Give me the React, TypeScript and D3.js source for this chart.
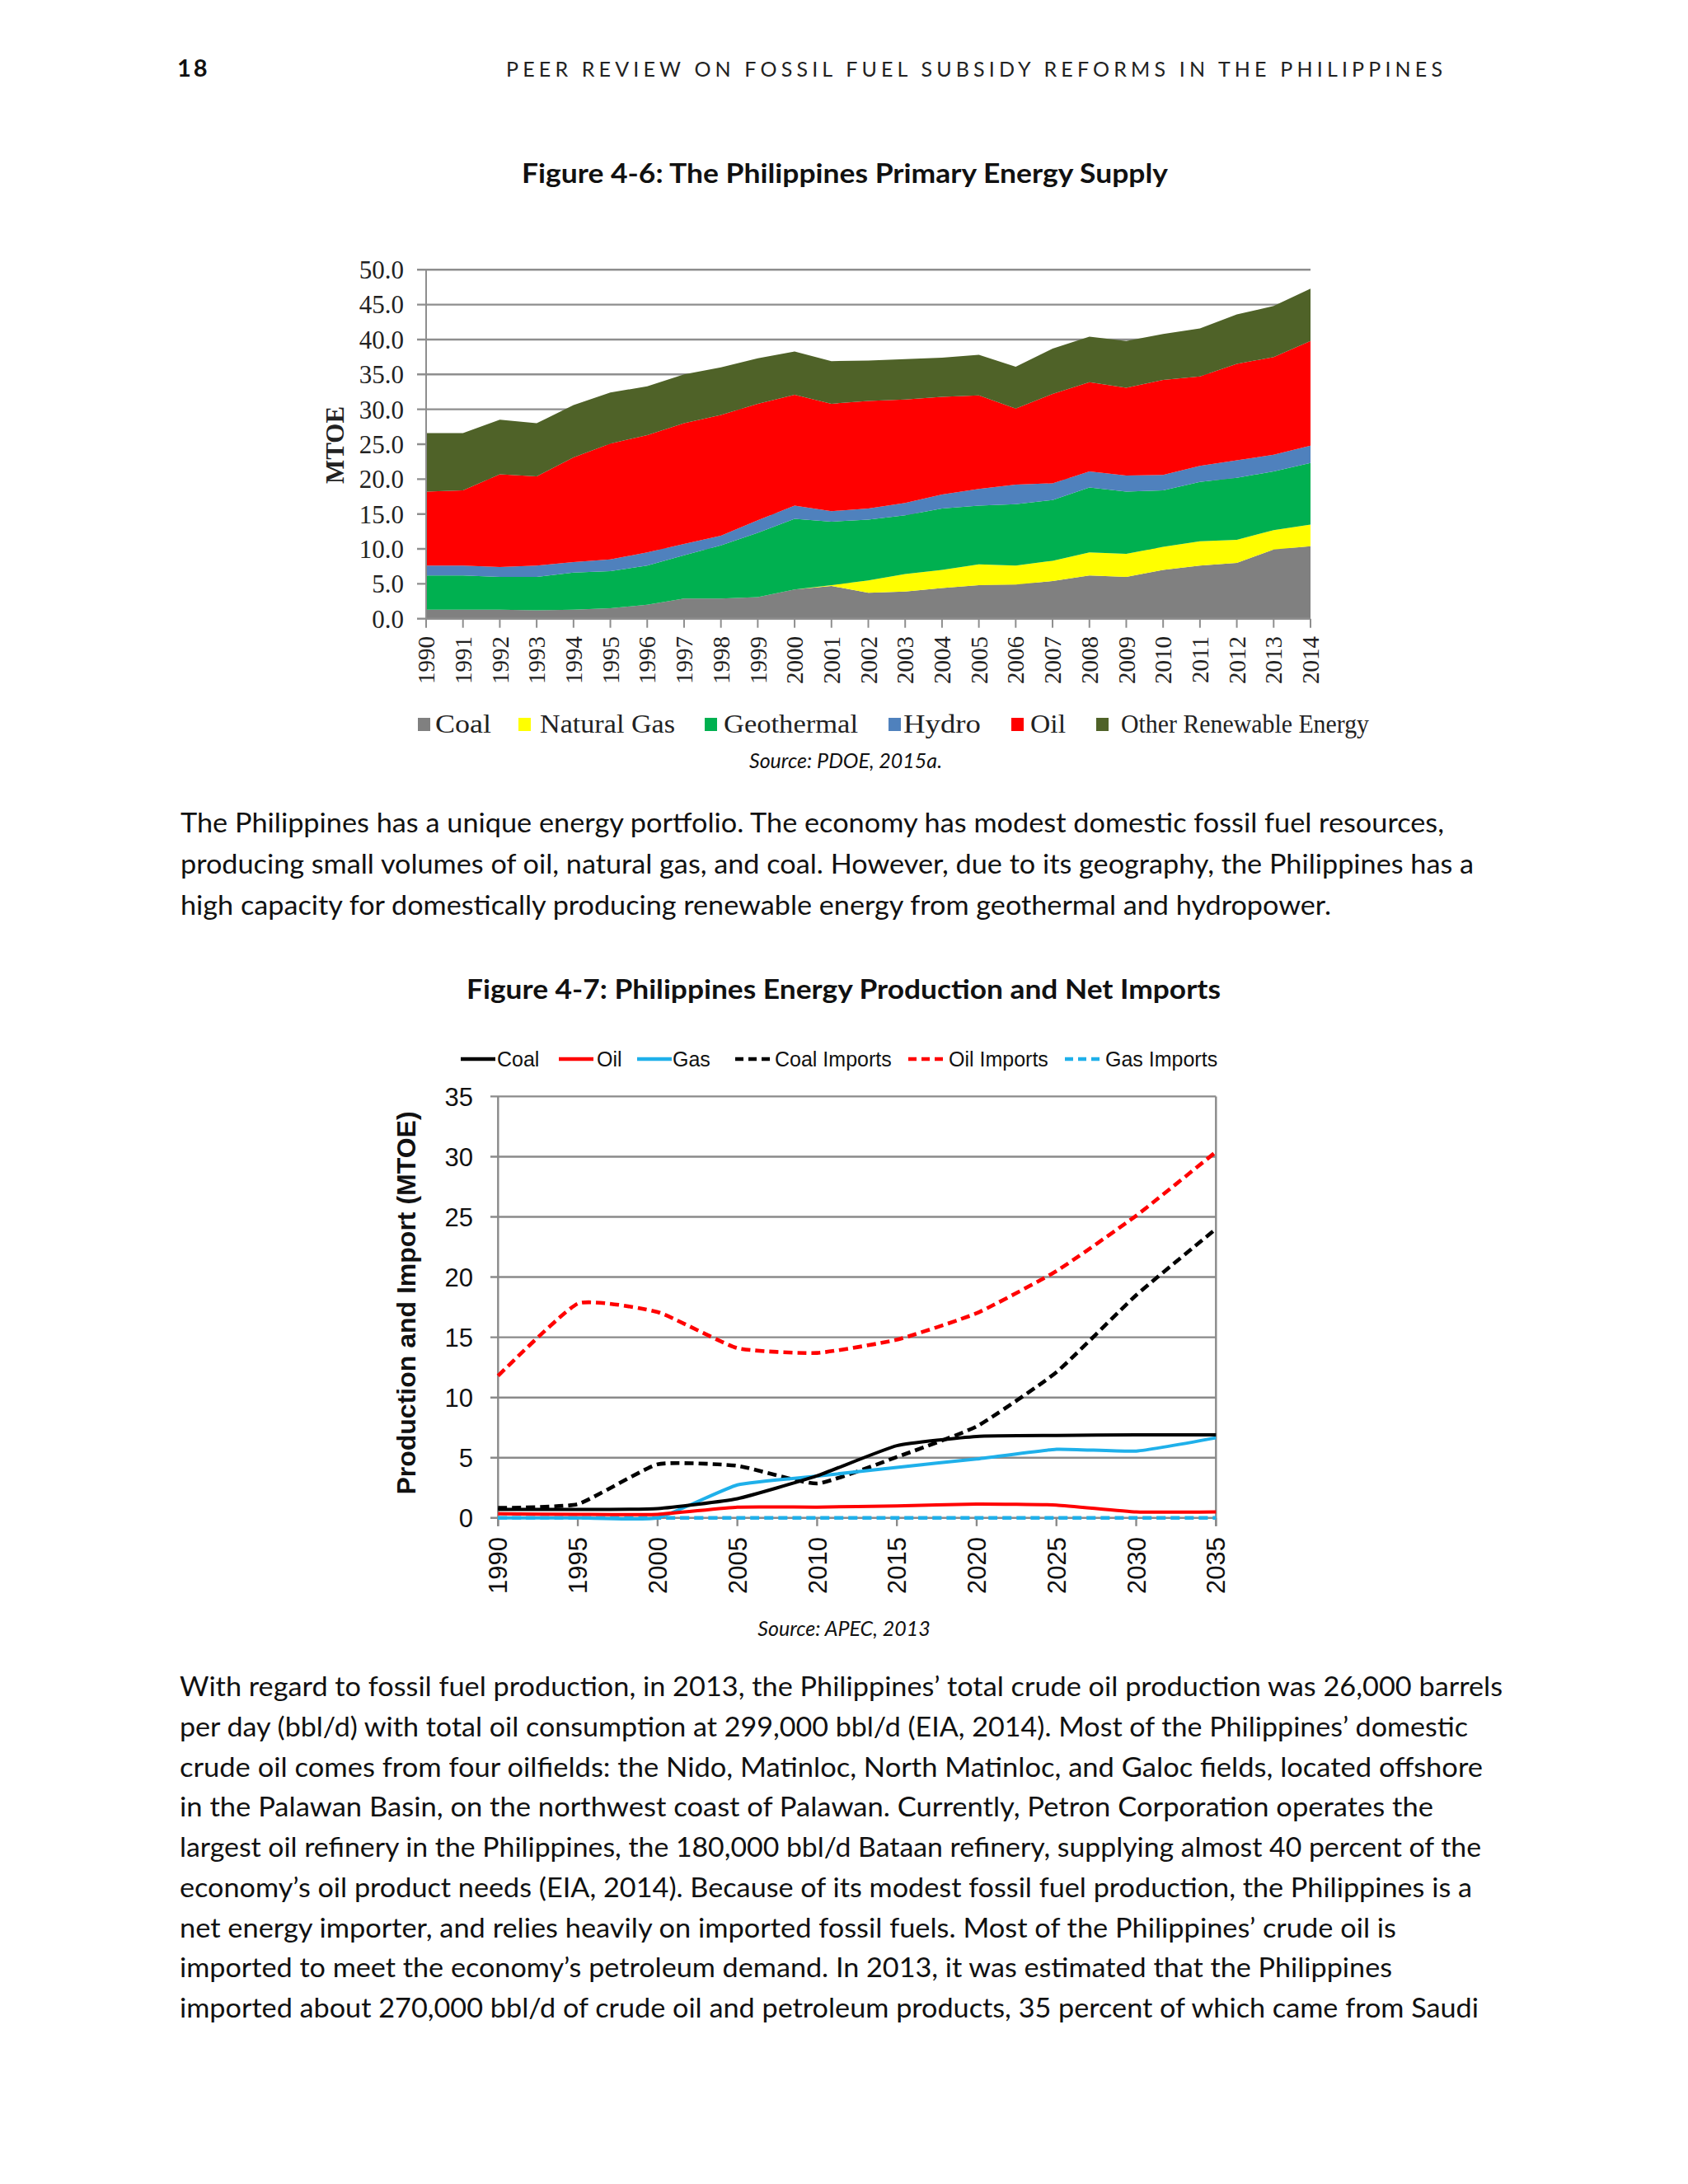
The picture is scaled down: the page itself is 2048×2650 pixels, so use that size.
import React from "react";
import * as d3 from "d3";

// ---- Figure 4-6: primary energy supply (MTOE), stacked
const supplyYears = [
  1990, 1991, 1992, 1993, 1994, 1995, 1996, 1997, 1998, 1999, 2000, 2001, 2002,
  2003, 2004, 2005, 2006, 2007, 2008, 2009, 2010, 2011, 2012, 2013, 2014,
];
const coalSupply = [1.3, 1.3, 1.3, 1.2, 1.3, 1.5, 2.0, 2.9, 2.9, 3.1, 4.2, 4.7, 3.7, 3.9, 4.4, 4.8, 4.9, 5.4, 6.2, 6.0, 7.0, 7.6, 8.0, 9.9, 10.4];
const gasSupply = [0, 0, 0, 0, 0, 0, 0, 0, 0, 0, 0, 0.1, 1.8, 2.5, 2.6, 3.0, 2.7, 2.9, 3.3, 3.3, 3.3, 3.5, 3.3, 2.8, 3.1];
const geoSupply = [4.9, 4.9, 4.7, 4.8, 5.3, 5.3, 5.6, 6.2, 7.6, 9.2, 10.1, 9.1, 8.7, 8.4, 8.8, 8.4, 8.8, 8.7, 9.3, 8.9, 8.1, 8.5, 8.9, 8.4, 8.8];
const hydroSupply = [1.4, 1.4, 1.4, 1.6, 1.5, 1.7, 1.9, 1.6, 1.4, 1.8, 1.9, 1.5, 1.6, 1.8, 2.0, 2.4, 2.8, 2.4, 2.3, 2.3, 2.2, 2.3, 2.5, 2.4, 2.5];
const oilSupply = [10.6, 10.8, 13.3, 12.8, 15.0, 16.6, 16.8, 17.3, 17.3, 16.7, 15.9, 15.4, 15.4, 14.8, 14.0, 13.4, 10.9, 12.8, 12.8, 12.6, 13.6, 12.8, 13.8, 14.0, 15.0];
const otherSupply = [8.4, 8.2, 7.8, 7.6, 7.5, 7.3, 7.0, 7.0, 6.8, 6.5, 6.2, 6.1, 5.8, 5.8, 5.6, 5.8, 6.0, 6.5, 6.5, 6.7, 6.6, 6.9, 7.1, 7.3, 7.5];
const supplyKeys = ["Coal", "Natural Gas", "Geothermal", "Hydro", "Oil", "Other Renewable Energy"];
const supplyColors = ["#808080", "#ffff00", "#00b050", "#4f81bd", "#ff0000", "#4f6228"];
const supplyTicks = [0, 5, 10, 15, 20, 25, 30, 35, 40, 45, 50];

// ---- Figure 4-7: production and net imports (MTOE)
const outlookYears = [1990, 1995, 2000, 2005, 2010, 2015, 2020, 2025, 2030, 2035];
const coalProd = [0.7, 0.7, 0.78, 1.6, 3.5, 6.0, 6.77, 6.85, 6.9, 6.9];
const oilProd = [0.34, 0.3, 0.3, 0.9, 0.9, 1.0, 1.15, 1.07, 0.5, 0.5];
const gasProd = [0, 0, 0, 2.74, 3.47, 4.2, 4.9, 5.7, 5.55, 6.65];
const coalImports = [0.83, 1.15, 4.45, 4.33, 2.86, 5.06, 7.6, 12.1, 18.5, 24.0];
const oilImports = [11.8, 17.8, 17.1, 14.1, 13.7, 14.8, 17.0, 20.5, 25.1, 30.4];
const gasImports = [0, 0, 0, 0, 0, 0, 0, 0, 0, 0];
const outlookTicks = [0, 5, 10, 15, 20, 25, 30, 35];

const outlookSeries = [
  { name: "Coal", values: coalProd, color: "#000000", dash: null },
  { name: "Oil", values: oilProd, color: "#ff0000", dash: null },
  { name: "Gas", values: gasProd, color: "#1fb0ea", dash: null },
  { name: "Coal Imports", values: coalImports, color: "#000000", dash: "11,6" },
  { name: "Oil Imports", values: oilImports, color: "#ff0000", dash: "11,6" },
  { name: "Gas Imports", values: gasImports, color: "#1fb0ea", dash: "11,6" },
];

const para1 = [
  "The Philippines has a unique energy portfolio. The economy has modest domestic fossil fuel resources,",
  "producing small volumes of oil, natural gas, and coal. However, due to its geography, the Philippines has a",
  "high capacity for domestically producing renewable energy from geothermal and hydropower.",
];
const para1Ends = [1752, 1788, 1615];

const para2 = [
  "With regard to fossil fuel production, in 2013, the Philippines\u2019 total crude oil production was 26,000 barrels",
  "per day (bbl/d) with total oil consumption at 299,000 bbl/d (EIA, 2014). Most of the Philippines\u2019 domestic",
  "crude oil comes from four oilfields: the Nido, Matinloc, North Matinloc, and Galoc fields, located offshore",
  "in the Palawan Basin, on the northwest coast of Palawan. Currently, Petron Corporation operates the",
  "largest oil refinery in the Philippines, the 180,000 bbl/d Bataan refinery, supplying almost 40 percent of the",
  "economy\u2019s oil product needs (EIA, 2014). Because of its modest fossil fuel production, the Philippines is a",
  "net energy importer, and relies heavily on imported fossil fuels. Most of the Philippines\u2019 crude oil is",
  "imported to meet the economy\u2019s petroleum demand. In 2013, it was estimated that the Philippines",
  "imported about 270,000 bbl/d of crude oil and petroleum products, 35 percent of which came from Saudi",
];
const para2Ends = [1823, 1781, 1799, 1739, 1797, 1786, 1694, 1689, 1794];

const BODY = "Lato, 'Open Sans', sans-serif";
const SERIF = "'Liberation Serif', 'DejaVu Serif', serif";
const SANS = "'Liberation Sans', Arial, sans-serif";

function SupplyChart() {
  const x = d3.scaleLinear().domain([1990, 2014]).range([517, 1590]);
  const y = d3.scaleLinear().domain([0, 50]).range([750.7, 327.3]);

  const rows = supplyYears.map((yr, i) => ({
    year: yr,
    Coal: coalSupply[i],
    "Natural Gas": gasSupply[i],
    Geothermal: geoSupply[i],
    Hydro: hydroSupply[i],
    Oil: oilSupply[i],
    "Other Renewable Energy": otherSupply[i],
  }));
  const stacked = d3.stack<any>().keys(supplyKeys)(rows);
  const area = d3
    .area<any>()
    .x((d) => x(d.data.year))
    .y0((d) => y(d[0]))
    .y1((d) => y(d[1]));

  // legend layout (marker x, text x, text width)
  const legendMarkX = [507, 629, 855, 1078, 1227, 1330];
  const legendTextX = [528, 655, 878, 1096, 1250, 1360];
  const legendTextW = [68, 164, 163, 94, 43, 301];

  return (
    <g>
      {supplyTicks.map((t) => (
        <g key={t}>
          <line x1={506} x2={t === 0 ? 517 : 1590} y1={y(t)} y2={y(t)} stroke="#8e8e8e" strokeWidth={2.4} />
          <text x={490} y={y(t)} dy="0.35em" textAnchor="end" fontFamily={SERIF} fontSize={31} fill="#222">
            {d3.format(".1f")(t)}
          </text>
        </g>
      ))}
      {stacked.map((s, i) => (
        <path key={s.key} d={area(s) || ""} fill={supplyColors[i]} />
      ))}
      <line x1={517} x2={1590} y1={y(0)} y2={y(0)} stroke="#8e8e8e" strokeWidth={2.4} />
      <line x1={517} x2={517} y1={y(50)} y2={y(0)} stroke="#8e8e8e" strokeWidth={2} />
      {supplyYears.map((yr) => (
        <g key={yr}>
          <line x1={x(yr)} x2={x(yr)} y1={y(0)} y2={y(0) + 11} stroke="#8e8e8e" strokeWidth={2} />
          <text
            transform={`translate(${x(yr)},772) rotate(-90)`}
            dy="0.35em"
            textAnchor="end"
            fontFamily={SERIF}
            fontSize={29}
            fill="#222"
          >
            {yr}
          </text>
        </g>
      ))}
      <text transform="translate(417,540) rotate(-90)" textAnchor="middle" fontFamily={SERIF} fontWeight="bold" fontSize={31} fill="#222">
        MTOE
      </text>
      {supplyKeys.map((k, i) => (
        <g key={k}>
          <rect x={legendMarkX[i]} y={871} width={15} height={16} fill={supplyColors[i]} />
          <text
            x={legendTextX[i]}
            y={889}
            textLength={legendTextW[i]}
            lengthAdjust="spacingAndGlyphs"
            fontFamily={SERIF}
            fontSize={31}
            fill="#222"
          >
            {k}
          </text>
        </g>
      ))}
      <text x={1026} y={932} textAnchor="middle" fontFamily={BODY} fontStyle="italic" fontSize={25} fill="#111">
        Source: PDOE, 2015a.
      </text>
    </g>
  );
}

function OutlookChart() {
  const x = d3.scaleLinear().domain([1990, 2035]).range([604.3, 1475.3]);
  const y = d3.scaleLinear().domain([0, 35]).range([1841.8, 1330.4]);
  const line = d3
    .line<number>()
    .x((_, i) => x(outlookYears[i]))
    .y((d) => y(d))
    .curve(d3.curveCardinal.tension(0.55));

  const legLine = [
    [559, 601],
    [678, 720],
    [773, 815],
    [892, 937],
    [1102, 1148],
    [1292, 1337],
  ];
  const legText = [603, 724, 816, 940, 1151, 1341];

  return (
    <g>
      {outlookTicks.map((t) => (
        <g key={t}>
          <line x1={595} x2={1475.3} y1={y(t)} y2={y(t)} stroke="#8a8a8a" strokeWidth={2.4} />
          <text x={574} y={y(t)} dy="0.36em" textAnchor="end" fontFamily={SANS} fontSize={31} fill="#111">
            {t}
          </text>
        </g>
      ))}
      <line x1={604.3} x2={604.3} y1={y(35)} y2={y(0) + 10} stroke="#8a8a8a" strokeWidth={2.4} />
      <line x1={1475.3} x2={1475.3} y1={y(35)} y2={y(0) + 10} stroke="#8a8a8a" strokeWidth={2.4} />
      {outlookYears.map((yr) => (
        <g key={yr}>
          <line x1={x(yr)} x2={x(yr)} y1={y(0)} y2={y(0) + 10} stroke="#8a8a8a" strokeWidth={2.4} />
          <text
            transform={`translate(${x(yr)},1865) rotate(-90)`}
            dy="0.36em"
            textAnchor="end"
            fontFamily={SANS}
            fontSize={31}
            fill="#111"
          >
            {yr}
          </text>
        </g>
      ))}
      {[...outlookSeries].reverse().map((s) => (
        <path
          key={s.name}
          d={line(s.values) || ""}
          fill="none"
          stroke={s.color}
          strokeWidth={s.dash ? 4.6 : 4}
          strokeDasharray={s.dash || undefined}
        />
      ))}
      <text transform="translate(504,1581) rotate(-90)" textAnchor="middle" fontFamily={SANS} fontWeight="bold" fontSize={32} fill="#111">
        Production and Import (MTOE)
      </text>
      {outlookSeries.map((s, i) => (
        <g key={s.name}>
          <line
            x1={legLine[i][0]}
            x2={legLine[i][1]}
            y1={1285}
            y2={1285}
            stroke={s.color}
            strokeWidth={4.4}
            strokeDasharray={s.dash ? "10,6" : undefined}
          />
          <text x={legText[i]} y={1294} fontFamily={SANS} fontSize={25} fill="#111">
            {s.name}
          </text>
        </g>
      ))}
      <text x={1024} y={1985} textAnchor="middle" fontFamily={BODY} fontStyle="italic" fontSize={25} fill="#111">
        Source: APEC, 2013
      </text>
    </g>
  );
}

export default function App() {
  return (
    <svg
      width={2048}
      height={2650}
      viewBox="0 0 2048 2650"
      style={{ position: "absolute", left: 0, top: 0, display: "block", background: "#fff" }}
    >
      <rect width={2048} height={2650} fill="#fff" />
      <text x={215} y={93} fontFamily={BODY} fontWeight="bold" fontSize={29} letterSpacing={3} fill="#111">
        18
      </text>
      <text x={614} y={93} textLength={1136} lengthAdjust="spacing" fontFamily={BODY} fontSize={25} fill="#222">
        PEER REVIEW ON FOSSIL FUEL SUBSIDY REFORMS IN THE PHILIPPINES
      </text>
      <text x={633} y={222} textLength={784} lengthAdjust="spacingAndGlyphs" fontFamily={BODY} fontWeight="bold" fontSize={33} fill="#111">
        Figure 4-6: The Philippines Primary Energy Supply
      </text>
      <SupplyChart />
      {para1.map((l, i) => (
        <text
          key={i}
          x={219}
          y={1010 + i * 49.8}
          textLength={para1Ends[i] - 219}
          lengthAdjust="spacingAndGlyphs"
          fontFamily={BODY}
          fontSize={32}
          fill="#111"
        >
          {l}
        </text>
      ))}
      <text x={566} y={1212} textLength={915} lengthAdjust="spacingAndGlyphs" fontFamily={BODY} fontWeight="bold" fontSize={33} fill="#111">
        Figure 4-7: Philippines Energy Production and Net Imports
      </text>
      <OutlookChart />
      {para2.map((l, i) => (
        <text
          key={i}
          x={218}
          y={2058 + i * 48.75}
          textLength={para2Ends[i] - 218}
          lengthAdjust="spacingAndGlyphs"
          fontFamily={BODY}
          fontSize={32}
          fill="#111"
        >
          {l}
        </text>
      ))}
    </svg>
  );
}
